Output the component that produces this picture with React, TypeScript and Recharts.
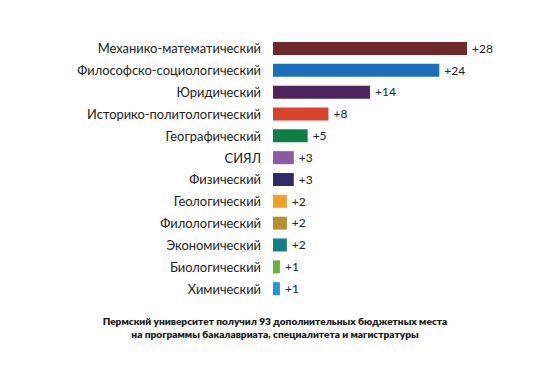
import { BarChart, Bar, XAxis, YAxis, Cell, LabelList } from 'recharts';

// faculties, top to bottom
const faculties = [
  'Механико-математический',
  'Философско-социологический',
  'Юридический',
  'Историко-политологический',
  'Географический',
  'СИЯЛ',
  'Физический',
  'Геологический',
  'Филологический',
  'Экономический',
  'Биологический',
  'Химический',
];

// additional budget places per faculty
const extraPlaces = [28, 24, 14, 8, 5, 3, 3, 2, 2, 2, 1, 1];

const barColors = [
  '#6e2a2a',
  '#1b6fbd',
  '#50245f',
  '#d8432d',
  '#0f7d44',
  '#8a5aa5',
  '#2f2c67',
  '#eea122',
  '#b78f2f',
  '#127f89',
  '#6bb23c',
  '#1f97df',
];

const captionLines = [
  'Пермский университет получил 93 дополнительных бюджетных места',
  'на программы бакалавриата, специалитета и магистратуры',
];

const FONT = 'Lato, sans-serif';

export default function App() {
  const chartData = faculties.map((name, i) => ({
    name,
    value: extraPlaces[i],
    color: barColors[i],
  }));

  return (
    <div style={{ position: 'fixed', left: 0, top: 0, width: 550, height: 372, background: '#fff', fontFamily: FONT }}>
      <BarChart
        width={550}
        height={372}
        data={chartData}
        layout="vertical"
        margin={{ top: 38, right: 83, left: 0, bottom: 72 }}
        barSize={13}
      >
        <XAxis type="number" hide domain={[0, 28]} />
        <YAxis
          type="category"
          dataKey="name"
          width={273}
          axisLine={false}
          tickLine={false}
          tickSize={0}
          tickMargin={12}
          tick={{ fill: '#222', fontSize: 12.9, fontFamily: FONT }}
          interval={0}
        />
        <Bar dataKey="value" isAnimationActive={false}>
          {chartData.map((entry, index) => (
            <Cell key={`cell-${index}`} fill={entry.color} />
          ))}
          <LabelList
            dataKey="value"
            position="right"
            offset={5}
            formatter={(v: any) => `+${v}`}
            style={{ fill: '#222', fontSize: 12, fontFamily: FONT }}
          />
        </Bar>
      </BarChart>
      <div
        style={{
          position: 'absolute',
          left: 0,
          width: 550,
          top: 315,
          textAlign: 'center',
          fontSize: 10.1,
          fontWeight: 800,
          lineHeight: '13px',
          color: '#1a1a1a',
        }}
      >
        {captionLines.map((line) => (
          <div key={line}>{line}</div>
        ))}
      </div>
    </div>
  );
}
